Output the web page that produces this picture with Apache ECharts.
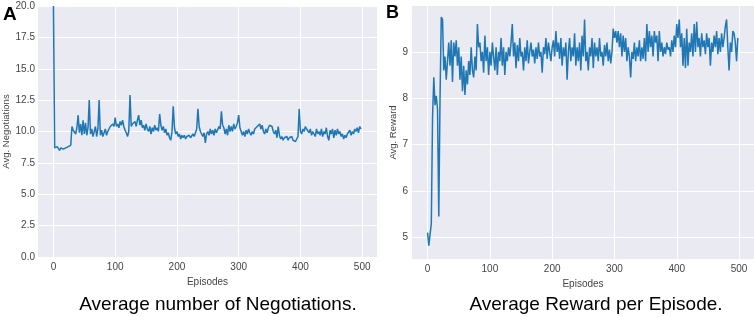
<!DOCTYPE html>
<html>
<head>
<meta charset="utf-8">
<script src="https://cdn.jsdelivr.net/npm/echarts@6/dist/echarts.min.js"></script>
<style>
  html, body { margin: 0; padding: 0; background: #fff; }
  #chart { width: 754px; height: 317px; }
</style>
</head>
<body>
<div id="chart"></div>
<script>
// episodes are sampled every 2 steps (0, 2, ..., 498)
const episodeStep = 2

// A: average number of negotiations per episode
const negotiations = [
  20.0, 8.7, 8.6, 8.8, 8.7, 8.5, 8.7, 8.8, 8.6, 8.7,
  8.7, 8.6, 8.8, 8.7, 8.9, 10.4, 10.1, 10.2, 9.8, 10.3,
  11.3, 9.9, 10.6, 9.7, 10.9, 9.8, 10.7, 9.7, 10.3, 12.5,
  9.8, 10.2, 9.6, 10.0, 10.4, 9.6, 10.2, 12.5, 9.7, 10.1,
  9.6, 9.9, 10.2, 9.7, 10.0, 10.2, 10.4, 10.3, 10.6, 10.4,
  11.1, 10.4, 10.6, 10.3, 10.8, 10.5, 10.9, 10.4, 10.1, 9.9,
  9.6, 10.0, 12.9, 10.4, 10.6, 10.5, 10.8, 10.4, 10.9, 11.3,
  10.5, 10.9, 10.3, 10.5, 10.1, 10.6, 10.2, 10.0, 10.4, 9.8,
  10.3, 10.0, 10.5, 10.1, 10.3, 10.0, 11.4, 10.5, 10.1, 10.4,
  9.9, 10.2, 9.7, 9.9, 9.5, 9.3, 10.0, 12.0, 10.3, 9.8,
  10.0, 9.6, 9.8, 9.4, 9.7, 9.5, 9.7, 9.4, 9.6, 9.5,
  9.7, 9.5, 9.6, 9.8, 9.6, 9.9, 10.2, 11.8, 10.4, 10.0,
  9.8, 9.6, 9.9, 9.1, 9.8, 10.0, 9.7, 10.2, 9.8, 10.1,
  9.7, 10.2, 9.9, 10.0, 10.4, 10.2, 11.6, 10.5, 10.3, 9.8,
  10.2, 9.7, 10.5, 10.0, 10.4, 10.0, 10.6, 10.2, 10.4, 10.7,
  11.3, 10.3, 10.0, 9.7, 10.0, 9.6, 10.1, 9.8, 10.2, 9.9,
  9.7, 10.0, 9.8, 10.2, 10.1, 10.4, 10.3, 10.6, 10.2, 10.5,
  10.0, 9.8, 10.2, 9.9, 10.3, 10.5, 10.6, 10.4, 10.0, 9.8,
  10.1, 9.5, 10.4, 9.7, 9.4, 9.6, 9.3, 9.5, 9.4, 9.6,
  9.3, 9.5, 9.4, 9.6, 9.3, 9.4, 9.2, 9.3, 9.6, 11.8,
  10.0, 9.8, 10.2, 10.0, 10.4, 10.2, 10.3, 9.9, 10.2, 9.7,
  10.0, 9.8, 9.6, 10.2, 9.8, 10.0, 9.7, 10.2, 9.6, 10.0,
  9.8, 10.3, 9.6, 9.3, 10.1, 9.8, 10.2, 9.5, 10.1, 9.7,
  10.2, 9.8, 10.0, 9.6, 9.8, 9.4, 9.7, 9.5, 9.8, 9.9,
  10.1, 9.7, 10.0, 9.8, 10.2, 10.0, 10.3, 9.9, 10.4, 10.2
]

// B: average reward per episode
const rewards = [
  5.1, 4.82, 4.78, 5.3, 7.6, 8.45, 7.85, 8.05, 7.75, 5.45,
  8.0, 9.75, 9.7, 8.6, 8.9, 8.4, 8.8, 9.2, 8.7, 9.25,
  8.35, 9.2, 8.9, 9.25, 8.7, 9.1, 8.4, 8.9, 8.15, 8.7,
  8.07, 8.6, 8.3, 8.8, 8.5, 9.1, 8.6, 8.45, 8.9, 8.6,
  9.6, 9.1, 9.2, 8.8, 9.0, 8.55, 9.35, 8.8, 9.1, 8.5,
  9.0, 8.7, 9.2, 8.9, 8.6, 9.1, 8.5, 9.0, 8.8, 9.3,
  8.7, 9.1, 8.5, 9.0, 8.8, 9.1, 8.9, 9.2, 9.6, 8.9,
  9.2, 8.65, 9.15, 8.8, 9.3, 8.9, 9.0, 8.6, 9.1, 8.8,
  9.25, 8.75, 9.0, 9.2, 8.9, 9.05, 8.75, 9.1, 8.85, 9.2,
  8.9, 9.0, 8.55, 9.1, 8.95, 9.3, 8.85, 9.2, 9.0, 8.8,
  9.1, 9.25, 8.9, 9.45, 9.0, 9.2, 8.85, 9.3, 8.7, 9.1,
  8.9, 9.2, 8.4, 9.0, 9.3, 8.8, 9.1, 8.9, 9.4, 8.7,
  9.1, 8.8, 9.2, 8.6, 9.35, 8.9, 9.7, 8.8, 9.0, 8.6,
  9.1, 8.9, 9.3, 8.65, 9.2, 8.9, 9.1, 8.8, 9.3, 8.9,
  9.0, 8.7, 9.15, 8.9, 9.2, 8.8, 9.05, 8.75, 9.0, 9.5,
  9.3, 9.45, 9.2, 9.45, 9.1, 9.4, 8.9, 9.35, 9.0, 9.3,
  8.8, 9.1, 8.9, 8.45, 9.0, 8.85, 9.2, 8.8, 9.1, 8.9,
  9.25, 8.8, 9.1, 8.85, 9.3, 8.8, 9.6, 9.0, 9.45, 9.1,
  9.35, 8.9, 9.45, 9.2, 9.35, 8.8, 9.45, 9.0, 9.2, 8.9,
  9.1, 8.95, 9.2, 9.05, 9.1, 8.9, 9.25, 9.0, 9.35, 9.1,
  9.6, 9.3, 9.7, 9.1, 9.4, 8.7, 9.3, 8.65, 9.5, 8.7,
  9.2, 9.0, 9.4, 8.9, 9.6, 9.0, 9.65, 9.1, 9.3, 8.9,
  9.4, 9.1, 9.25, 8.95, 9.4, 9.1, 9.3, 8.7, 9.2, 9.0,
  9.35, 9.1, 9.45, 8.95, 9.3, 9.0, 9.4, 9.1, 9.3, 9.55,
  9.7, 9.1, 8.6, 9.2, 9.0, 9.45, 9.4, 9.2, 8.8, 9.3
]

const episodeTicks = [0, 100, 200, 300, 400, 500]
const rewardTicks = [5, 6, 7, 8, 9]

const toPairs = values => values.map((v, i) => [i * episodeStep, v])

const font = '"Liberation Sans", Arial, sans-serif'
const tickColor = '#444'
const lineColor = '#1f77b4'
const bgColor = '#eaeaf2'

const xAxisBase = gridIndex => ({
  type: 'value',
  gridIndex,
  min: -25,
  max: 524,
  name: 'Episodes',
  nameLocation: 'middle',
  nameGap: 16,
  nameTextStyle: { fontFamily: font, fontSize: 10, color: tickColor },
  axisLine: { show: false },
  axisTick: { show: false, customValues: episodeTicks },
  axisLabel: {
    customValues: episodeTicks,
    fontFamily: font, fontSize: 10, color: tickColor, margin: 5
  },
  splitLine: { show: true, lineStyle: { color: '#fff', width: 1 } }
})

const chart = echarts.init(document.getElementById('chart'), null, { renderer: 'canvas' })

const option = {
  animation: false,
  backgroundColor: '#fff',
  grid: [
    { left: 38, right: 377, top: 6, bottom: 60, show: true, backgroundColor: bgColor, borderWidth: 0 },
    { left: 412, right: 0, top: 6, bottom: 58, show: true, backgroundColor: bgColor, borderWidth: 0 }
  ],
  xAxis: [xAxisBase(0), xAxisBase(1)],
  yAxis: [
    {
      type: 'value',
      gridIndex: 0,
      min: 0,
      max: 20,
      interval: 2.5,
      name: 'Avg. Negotiations',
      nameLocation: 'middle',
      nameGap: 25,
      nameTextStyle: { fontFamily: font, fontSize: 9.5, color: tickColor },
      axisLine: { show: false },
      axisTick: { show: false },
      axisLabel: {
        fontFamily: font, fontSize: 10, color: tickColor, margin: 3,
        formatter: v => v.toFixed(1)
      },
      splitLine: { show: true, lineStyle: { color: '#fff', width: 1 } }
    },
    {
      type: 'value',
      gridIndex: 1,
      min: 4.53,
      max: 9.99,
      name: 'Avg. Reward',
      nameLocation: 'middle',
      nameGap: 11,
      nameTextStyle: { fontFamily: font, fontSize: 9.5, color: tickColor },
      axisLine: { show: false },
      axisTick: { show: false, customValues: rewardTicks },
      axisLabel: {
        customValues: rewardTicks,
        fontFamily: font, fontSize: 10, color: tickColor, margin: 4
      },
      splitLine: { show: true, lineStyle: { color: '#fff', width: 1 } }
    }
  ],
  series: [
    {
      type: 'line',
      xAxisIndex: 0,
      yAxisIndex: 0,
      data: toPairs(negotiations),
      showSymbol: false,
      symbol: 'none',
      lineStyle: { color: lineColor, width: 1.5 },
      silent: true
    },
    {
      type: 'line',
      xAxisIndex: 1,
      yAxisIndex: 1,
      data: toPairs(rewards),
      showSymbol: false,
      symbol: 'none',
      lineStyle: { color: lineColor, width: 1.5 },
      silent: true
    }
  ],
  graphic: [
    {
      type: 'text', left: 3, top: 5,
      style: { text: 'A', font: 'bold 19px ' + font, fill: '#000' }
    },
    {
      type: 'text', left: 386, top: 4,
      style: { text: 'B', font: 'bold 18px ' + font, fill: '#000' }
    },
    {
      type: 'text', x: 218, y: 305,
      style: {
        text: 'Average number of Negotiations.', font: '19px ' + font, fill: '#000',
        textAlign: 'center', textVerticalAlign: 'middle'
      }
    },
    {
      type: 'text', x: 596, y: 305,
      style: {
        text: 'Average Reward per Episode.', font: '19px ' + font, fill: '#000',
        textAlign: 'center', textVerticalAlign: 'middle'
      }
    }
  ]
}

chart.setOption(option)
</script>
</body>
</html>
